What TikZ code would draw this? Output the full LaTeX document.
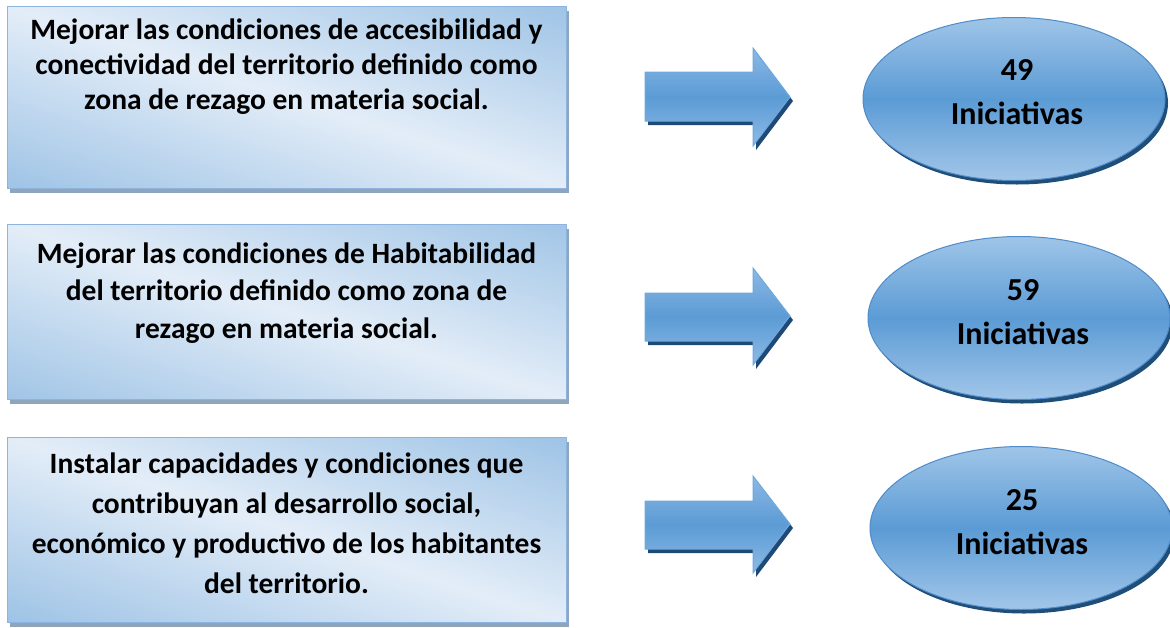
\documentclass[tikz,border=0pt]{standalone}
\usepackage{fontspec}
\setmainfont{Carlito}
\usetikzlibrary{shapes.geometric,shadows}
\definecolor{boxdark}{HTML}{9CC2E5}
\definecolor{boxlight}{HTML}{E3EDF8}
\definecolor{boxborder}{HTML}{8DB4DF}
\definecolor{boxshadow}{HTML}{8FA5BD}
\definecolor{arrowtop}{HTML}{8CB9E5}
\definecolor{arrowmid}{HTML}{5B9BD5}
\definecolor{arrowbot}{HTML}{8DBAE6}
\definecolor{arrowborder}{HTML}{6EA8DE}
\definecolor{arrowshadow}{HTML}{1F4A77}
\definecolor{elltop}{HTML}{9FC5E8}
\definecolor{ellmid}{HTML}{5B9BD5}
\definecolor{ellbot}{HTML}{A2C6E9}
\definecolor{ellborder}{HTML}{4F8CC9}
\definecolor{ellshadow}{HTML}{1F4E79}
\newcommand\myshadebox[2]{%
  \begin{scope}
    \clip (#1.north west) rectangle (#1.south east);
    \begin{scope}[transform canvas={rotate around={#2:(#1.center)}}]
      \shade[top color=boxdark, bottom color=boxdark, middle color=boxlight]
        ([shift={(-420,-180)}]#1.center) rectangle ([shift={(420,180)}]#1.center);
    \end{scope}
  \end{scope}
  \draw[boxborder, line width=1pt] (#1.north west) rectangle (#1.south east);
}
\begin{document}
\begin{tikzpicture}[x=1pt,y=1pt,
  boxstyle/.style={fill=boxlight, inner sep=0pt, outer sep=0pt,
    minimum width=559pt, anchor=north west,
    drop shadow={shadow xshift=3pt, shadow yshift=-5pt, fill=boxshadow, opacity=1}},
  arrowstyle/.style={draw=arrowborder, line width=1pt,
    top color=arrowtop, bottom color=arrowbot, middle color=arrowmid,
    drop shadow={shadow xshift=3pt, shadow yshift=-4pt, fill=arrowshadow, opacity=1}},
  ellstyle/.style={ellipse, draw=ellborder, line width=1pt,
    top color=elltop, bottom color=ellbot, middle color=ellmid,
    minimum width=302pt, minimum height=163pt, inner sep=0pt,
    drop shadow={shadow xshift=3pt, shadow yshift=-4pt, fill=ellshadow, opacity=1}},
  boxtext/.style={font=\bfseries\fontsize{29.5}{#1}\selectfont, align=center, anchor=base, inner sep=0pt},
  elltext/.style={font=\bfseries\fontsize{32}{44}\selectfont, align=center, anchor=base, inner sep=0pt}
]
\useasboundingbox (0,-627) rectangle (1170,0);

% boxes
\node[boxstyle, minimum height=182pt] (b1) at (7,-6) {};
\node[boxstyle, minimum height=175pt] (b2) at (7,-224) {};
\node[boxstyle, minimum height=185pt] (b3) at (7,-437) {};
\myshadebox{b1}{-18}
\myshadebox{b2}{-17.5}
\myshadebox{b3}{-18.3}

\node[boxtext=35] (t1) at (286.5,-109) {Mejorar las condiciones de accesibilidad y\\conectividad del territorio definido como\\zona de rezago en materia social.};
\node[boxtext=37.5] (t2) at (286.5,-338) {Mejorar las condiciones de Habitabilidad\\del territorio definido como zona de\\rezago en materia social.};
\node[boxtext=40] (t3) at (286.5,-593) {Instalar capacidades y condiciones que\\contribuyan al desarrollo social,\\económico y productivo de los habitantes\\del territorio.};

% arrows
\path[arrowstyle] (645,-72) -- (753,-72) -- (753,-48) -- (790,-97) -- (753,-146) -- (753,-121) -- (645,-121) -- cycle;
\path[arrowstyle] (645,-293) -- (753,-293) -- (753,-268) -- (790,-316) -- (753,-365) -- (753,-341) -- (645,-341) -- cycle;
\path[arrowstyle] (645,-501) -- (753,-501) -- (753,-476) -- (790,-524) -- (753,-573) -- (753,-549) -- (645,-549) -- cycle;

% ellipses
\node[ellstyle] (e1) at (1014,-99) {};
\node[ellstyle] (e2) at (1019,-318) {};
\node[ellstyle] (e3) at (1021,-528) {};

\node[elltext] (l1) at (1017,-124) {49\\Iniciativas};
\node[elltext] (l2) at (1023,-344) {59\\Iniciativas};
\node[elltext] (l3) at (1022,-554) {25\\Iniciativas};
\end{tikzpicture}
\end{document}
